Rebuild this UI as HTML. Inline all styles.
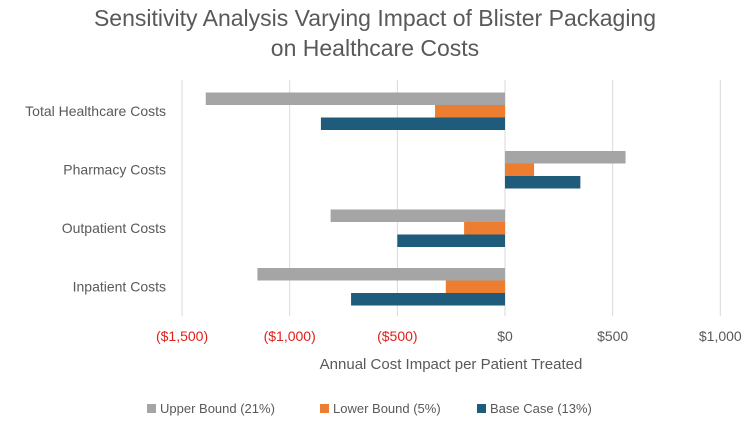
<!DOCTYPE html>
<html><head><meta charset="utf-8"><style>
body{margin:0;background:#fff;font-family:"Liberation Sans",sans-serif}
</style></head><body>
<svg id="chart" width="750" height="424" xmlns="http://www.w3.org/2000/svg" font-family="Liberation Sans, sans-serif">
<text x="375" y="26" text-anchor="middle" font-size="23" fill="#595959">Sensitivity Analysis Varying Impact of Blister Packaging</text>
<text x="375" y="56" text-anchor="middle" font-size="23" fill="#595959">on Healthcare Costs</text>
<g id="grid"></g><g id="bars"></g><g id="labels"></g>
<text x="451" y="369" text-anchor="middle" font-size="15" fill="#595959">Annual Cost Impact per Patient Treated</text>
<g font-size="13" fill="#595959">
<rect x="147" y="404" width="9" height="9" fill="#a5a5a5"/>
<text x="160" y="413">Upper Bound (21%)</text>
<rect x="320" y="404" width="9" height="9" fill="#ed7d31"/>
<text x="333" y="413">Lower Bound (5%)</text>
<rect x="477" y="404" width="9" height="9" fill="#1f5b7a"/>
<text x="490" y="413">Base Case (13%)</text>
</g>
</svg>
<script>
const categories=["Total Healthcare Costs","Pharmacy Costs","Outpatient Costs","Inpatient Costs"];
const upperBound=[-1390,560,-810,-1150];
const lowerBound=[-325,135,-190,-275];
const baseCase=[-855,350,-500,-715];
const ticks=[-1500,-1000,-500,0,500,1000];
const tickLabels=["($1,500)","($1,000)","($500)","$0","$500","$1,000"];
const NS="http://www.w3.org/2000/svg";
const x=v=>505+v*0.2153;
const yc=i=>111+i*58.5;
function mk(t,a,p){const e=document.createElementNS(NS,t);for(const k in a)e.setAttribute(k,a[k]);p.appendChild(e);return e;}
const g=document.getElementById('grid'),b=document.getElementById('bars'),l=document.getElementById('labels');
ticks.forEach((t,i)=>{
 const ln=mk('line',{x1:x(t),x2:x(t),y1:80,y2:316,stroke:'#d9d9d9','stroke-width':1},g);
 
 
 const tx=mk('text',{x:x(t),y:341,'text-anchor':'middle','font-size':14,fill:t<0?'#e0201b':'#595959'},l);
 tx.textContent=tickLabels[i];
 
 
});
const series=[[upperBound,'#a5a5a5','upper'],[lowerBound,'#ed7d31','lower'],[baseCase,'#1f5b7a','base']];
categories.forEach((c,i)=>{
 const tx=mk('text',{x:166,y:yc(i)+5,'text-anchor':'end','font-size':14,fill:'#595959'},l);
 tx.textContent=c;
 
 
 series.forEach((s,j)=>{
  const v=s[0][i];const x0=Math.min(x(0),x(v)),w=Math.abs(x(v)-x(0));
  const r=mk('rect',{x:x0,y:yc(i)-18.5+j*12.5,width:w,height:12.5,fill:s[1]},b);
  
  
 });
});
</script>
</body></html>
